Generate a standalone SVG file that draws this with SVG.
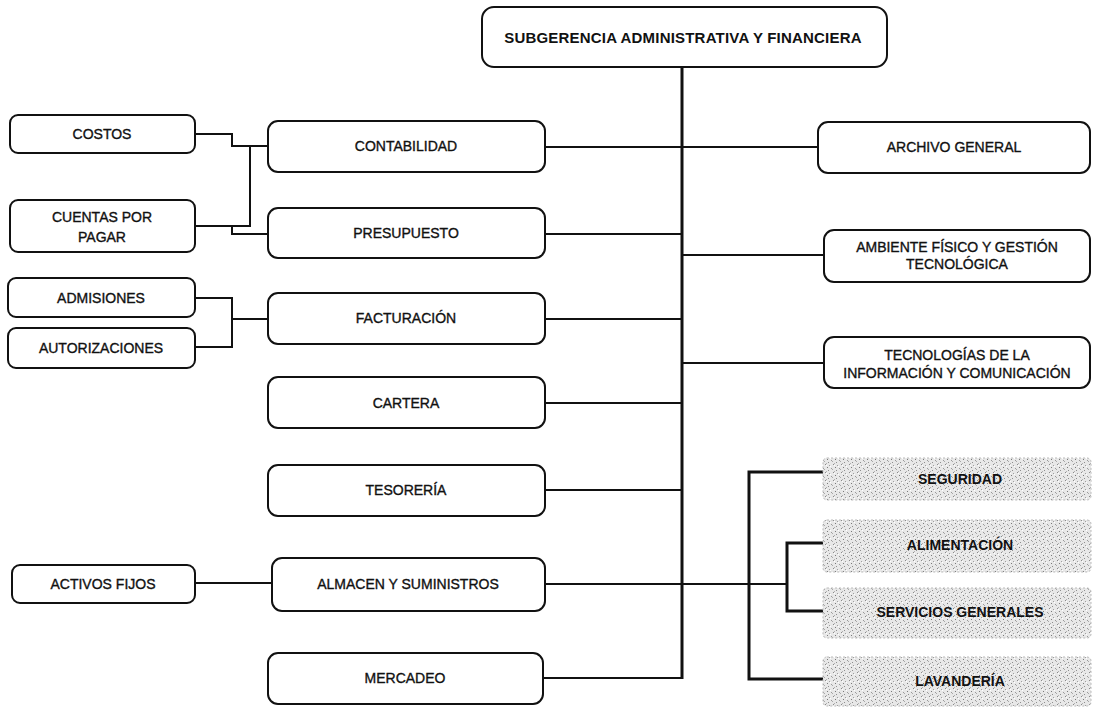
<svg xmlns="http://www.w3.org/2000/svg" width="1093" height="707" viewBox="0 0 1093 707">
<defs>
<pattern id="stip" width="8" height="8" patternUnits="userSpaceOnUse">
<rect width="8" height="8" fill="#e8e8e8"/>
<rect x="1" y="0" width="1" height="1" fill="#8a8a8a"/>
<rect x="5" y="1" width="1" height="1" fill="#a0a0a0"/>
<rect x="3" y="3" width="1" height="1" fill="#7a7a7a"/>
<rect x="7" y="4" width="1" height="1" fill="#999"/>
<rect x="0" y="5" width="1" height="1" fill="#aaa"/>
<rect x="4" y="6" width="1" height="1" fill="#8f8f8f"/>
<rect x="2" y="7" width="1" height="1" fill="#b0b0b0"/>
<rect x="6" y="2" width="1" height="1" fill="#fff"/>
<rect x="2" y="1" width="1" height="1" fill="#fff"/>
</pattern>
</defs>
<style>
.box{fill:#fff;stroke:#111;stroke-width:2;}
.gbox{fill:url(#stip);stroke:#bbb;stroke-width:1;stroke-dasharray:2 2;}
.t{font-family:"Liberation Sans",Arial,sans-serif;font-size:14px;fill:#111;stroke:#111;stroke-width:0.35;text-anchor:middle;dominant-baseline:central;}
.tb{font-family:"Liberation Sans",Arial,sans-serif;font-size:14px;font-weight:bold;fill:#111;text-anchor:middle;dominant-baseline:central;}
.title{font-size:15px;letter-spacing:0.2px;}
.c{fill:none;stroke:#111;stroke-width:2;}
.ct{fill:none;stroke:#111;stroke-width:3;}
</style>
<rect width="1093" height="707" fill="#fff"/>
<g id="connectors">
<line class="ct" x1="682" y1="67" x2="682" y2="679"/>
<polyline class="c" points="545,147 682,147"/>
<polyline class="c" points="545,234 682,234"/>
<polyline class="c" points="545,319 682,319"/>
<polyline class="c" points="545,403 682,403"/>
<polyline class="c" points="545,490 682,490"/>
<polyline class="c" points="545,584 787,584"/>
<polyline class="c" points="543,678 682,678"/>
<polyline class="c" points="682,147 818,147"/>
<polyline class="c" points="682,255 824,255"/>
<polyline class="c" points="682,363 824,363"/>
<polyline class="ct" points="823,472 749,472 749,679 823,679"/>
<polyline class="ct" points="823,543 787,543 787,611 823,611"/>
<polyline class="c" points="195,134 232,134 232,146 268,146"/>
<line class="c" x1="250" y1="146" x2="250" y2="227"/>
<polyline class="c" points="195,226 250,226"/>
<polyline class="c" points="232,226 232,234 268,234"/>
<polyline class="c" points="195,298 232,298 232,347 195,347"/>
<line class="c" x1="232" y1="319" x2="268" y2="319"/>
<line class="c" x1="195" y1="583" x2="272" y2="583"/>
</g>
<g id="n-subgerencia"><rect class="box" x="482" y="7" width="405" height="60" rx="12"/><text class="tb title" x="683" y="37">SUBGERENCIA ADMINISTRATIVA Y FINANCIERA</text></g>
<g id="n-costos"><rect class="box" x="10" y="115" width="185" height="38" rx="8"/><text class="t" x="102" y="134">COSTOS</text></g>
<g id="n-cuentas"><rect class="box" x="10" y="200" width="185" height="52" rx="8"/><text class="t" x="102" y="217">CUENTAS POR</text><text class="t" x="102" y="237">PAGAR</text></g>
<g id="n-admisiones"><rect class="box" x="8" y="278" width="187" height="39" rx="8"/><text class="t" x="101" y="298">ADMISIONES</text></g>
<g id="n-autorizaciones"><rect class="box" x="8" y="328" width="187" height="40" rx="8"/><text class="t" x="101" y="348">AUTORIZACIONES</text></g>
<g id="n-activos"><rect class="box" x="12" y="565" width="183" height="38" rx="8"/><text class="t" x="103" y="584">ACTIVOS FIJOS</text></g>
<g id="n-contabilidad"><rect class="box" x="268" y="121" width="277" height="51" rx="10"/><text class="t" x="406" y="146">CONTABILIDAD</text></g>
<g id="n-presupuesto"><rect class="box" x="268" y="208" width="277" height="50" rx="10"/><text class="t" x="406" y="233">PRESUPUESTO</text></g>
<g id="n-facturacion"><rect class="box" x="268" y="293" width="277" height="51" rx="10"/><text class="t" x="406" y="318">FACTURACIÓN</text></g>
<g id="n-cartera"><rect class="box" x="268" y="377" width="277" height="51" rx="10"/><text class="t" x="406" y="403">CARTERA</text></g>
<g id="n-tesoreria"><rect class="box" x="268" y="465" width="277" height="51" rx="10"/><text class="t" x="406" y="490">TESORERÍA</text></g>
<g id="n-almacen"><rect class="box" x="272" y="558" width="273" height="53" rx="10"/><text class="t" x="408" y="584">ALMACEN Y SUMINISTROS</text></g>
<g id="n-mercadeo"><rect class="box" x="268" y="653" width="275" height="51" rx="10"/><text class="t" x="405" y="678">MERCADEO</text></g>
<g id="n-archivo"><rect class="box" x="818" y="122" width="272" height="51" rx="10"/><text class="t" x="954" y="147">ARCHIVO GENERAL</text></g>
<g id="n-ambiente"><rect class="box" x="824" y="230" width="266" height="52" rx="10"/><text class="t" x="957" y="247">AMBIENTE FÍSICO Y GESTIÓN</text><text class="t" x="957" y="264">TECNOLÓGICA</text></g>
<g id="n-tic"><rect class="box" x="824" y="337" width="266" height="51" rx="10"/><text class="t" x="957" y="355">TECNOLOGÍAS DE LA</text><text class="t" x="957" y="373">INFORMACIÓN Y COMUNICACIÓN</text></g>
<g id="n-seguridad"><rect class="gbox" x="823" y="458" width="268" height="42" rx="4"/><text class="tb" x="960" y="479">SEGURIDAD</text></g>
<g id="n-alimentacion"><rect class="gbox" x="823" y="520" width="268" height="52" rx="4"/><text class="tb" x="960" y="545">ALIMENTACIÓN</text></g>
<g id="n-servicios"><rect class="gbox" x="823" y="588" width="268" height="50" rx="4"/><text class="tb" x="960" y="612">SERVICIOS GENERALES</text></g>
<g id="n-lavanderia"><rect class="gbox" x="823" y="657" width="268" height="49" rx="4"/><text class="tb" x="960" y="681">LAVANDERÍA</text></g>
</svg>
